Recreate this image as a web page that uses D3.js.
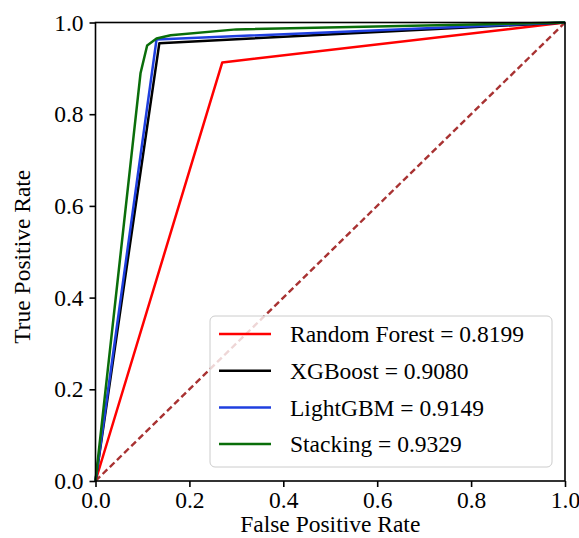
<!DOCTYPE html>
<html>
<head>
<meta charset="utf-8">
<script src="https://cdn.jsdelivr.net/npm/d3@7"></script>
<style>
  body { margin: 0; background: #fff; }
  svg text { font-family: "Liberation Serif", "Times New Roman", serif; fill: #000; }
</style>
</head>
<body>
<svg id="chart" width="579" height="538"></svg>
<script>
// ── data ──
const models = ["Random Forest", "XGBoost", "LightGBM", "Stacking"];
const aucs   = ["0.8199", "0.9080", "0.9149", "0.9329"];
const colors = ["#ff0000", "#000000", "#1f3fdf", "#0a6e0a"];
const rfFpr  = [0, 0.27, 1];
const rfTpr  = [0, 0.913, 1];
const xgbFpr = [0, 0.136, 1];
const xgbTpr = [0, 0.955, 1];
const lgbFpr = [0, 0.130, 1];
const lgbTpr = [0, 0.963, 1];
const stkFpr = [0, 0.096, 0.11, 0.13, 0.16, 0.30, 1];
const stkTpr = [0, 0.89, 0.95, 0.965, 0.972, 0.985, 1];
const ticks  = [0, 0.2, 0.4, 0.6, 0.8, 1.0];

const curves = [[rfFpr, rfTpr], [xgbFpr, xgbTpr], [lgbFpr, lgbTpr], [stkFpr, stkTpr]];

const svg = d3.select("#chart");
const margin = { left: 95.5, right: 14, top: 22.5, bottom: 57 };
const W = 579 - margin.left - margin.right;
const H = 538 - margin.top - margin.bottom;
const FS = 23.5;

const x = d3.scaleLinear().domain([0, 1]).range([0, W]);
const y = d3.scaleLinear().domain([0, 1]).range([H, 0]);

const g = svg.append("g").attr("transform", `translate(${margin.left},${margin.top})`);

// diagonal reference
g.append("line")
  .attr("x1", x(0)).attr("y1", y(0)).attr("x2", x(1)).attr("y2", y(1))
  .attr("stroke", "#a83232").attr("stroke-width", 2.4)
  .attr("stroke-dasharray", "6.5,3.5");

// ROC curves
const line = d3.line().x(d => x(d[0])).y(d => y(d[1]));
curves.forEach((c, i) => {
  const pts = c[0].map((f, j) => [f, c[1][j]]);
  g.append("path")
    .datum(pts)
    .attr("d", line)
    .attr("fill", "none")
    .attr("stroke", colors[i])
    .attr("stroke-width", 2.5)
    .attr("stroke-linejoin", "round");
});

// axes
const fmt = d3.format(".1f");
const xAxis = g.append("g").attr("transform", `translate(0,${H})`)
  .call(d3.axisBottom(x).tickValues(ticks).tickFormat(fmt).tickSize(6).tickPadding(4));
const yAxis = g.append("g")
  .call(d3.axisLeft(y).tickValues(ticks).tickFormat(fmt).tickSize(6).tickPadding(6));
[xAxis, yAxis].forEach(a => {
  a.selectAll("text").attr("font-size", FS).attr("font-family", "Liberation Serif");
  a.selectAll("line").attr("stroke", "#000").attr("stroke-width", 1.6);
  a.select(".domain").remove();
});

// frame
g.append("rect").attr("width", W).attr("height", H)
  .attr("fill", "none").attr("stroke", "#000").attr("stroke-width", 1.6);

// axis labels
g.append("text")
  .attr("x", W / 2).attr("y", H + 51)
  .attr("text-anchor", "middle").attr("font-size", FS)
  .text("False Positive Rate");
g.append("text")
  .attr("transform", `translate(${22 - margin.left},${H / 2 + 5}) rotate(-90)`)
  .attr("text-anchor", "middle").attr("dy", "0.35em").attr("font-size", FS)
  .text("True Positive Rate");

// legend
const lg = svg.append("g").attr("transform", "translate(210,316)");
lg.append("rect")
  .attr("width", 342).attr("height", 151).attr("rx", 5)
  .attr("fill", "#fff").attr("fill-opacity", 0.8)
  .attr("stroke", "#cccccc").attr("stroke-width", 1);
models.forEach((m, i) => {
  const yy = 18 + i * 36.7;
  lg.append("line")
    .attr("x1", 9).attr("x2", 61).attr("y1", yy).attr("y2", yy)
    .attr("stroke", colors[i]).attr("stroke-width", 2.5);
  lg.append("text")
    .attr("x", 80).attr("y", yy).attr("dy", "0.35em")
    .attr("font-size", FS)
    .text(`${m} = ${aucs[i]}`);
});
</script>
</body>
</html>
